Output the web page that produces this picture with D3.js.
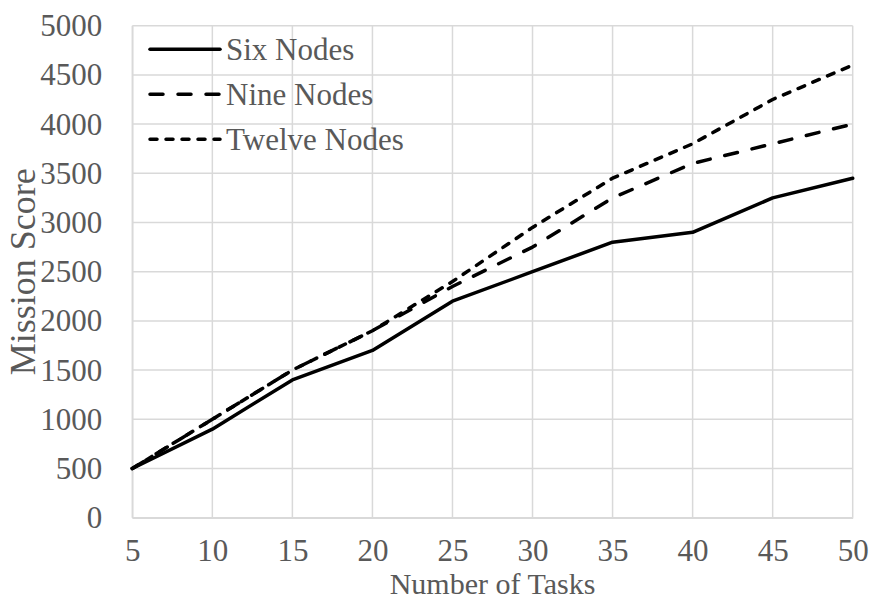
<html>
<head>
    <script src="https://d3js.org/d3.v7.min.js"></script>
</head>
<body style="margin:0;background:white">
    <svg></svg>
    <script>
        const tasks = [5, 10, 15, 20, 25, 30, 35, 40, 45, 50]
        const sixNodes = [500, 900, 1400, 1700, 2200, 2500, 2800, 2900, 3250, 3450]
        const nineNodes = [500, 1000, 1500, 1900, 2350, 2750, 3250, 3600, 3800, 4000]
        const twelveNodes = [500, 1000, 1500, 1900, 2400, 2950, 3450, 3800, 4250, 4600]
        const seriesNames = ["Six Nodes", "Nine Nodes", "Twelve Nodes"]
        const yTickValues = [0, 500, 1000, 1500, 2000, 2500, 3000, 3500, 4000, 4500, 5000]

        const width = 871
        const height = 601
        const textColor = "#595959"
        const gridColor = "#d9d9d9"
        const font = "Liberation Serif"

        const series = [
            { name: seriesNames[0], values: sixNodes, dash: null },
            { name: seriesNames[1], values: nineNodes, dash: "13,15" },
            { name: seriesNames[2], values: twelveNodes, dash: "7,9" },
        ]

        const xScale = d3.scaleLinear().domain([5, 50]).range([132.3, 852.7])
        const yScale = d3.scaleLinear().domain([0, 5000]).range([517.7, 25.7])

        const svg = d3.select("svg")
            .attr("width", width)
            .attr("height", height)
            .attr("viewBox", [0, 0, width, height])
            .attr("font-family", font)

        // grid
        svg.append("g")
            .selectAll("line")
            .data(yTickValues)
            .join("line")
            .attr("x1", xScale(5)).attr("x2", xScale(50))
            .attr("y1", d => yScale(d)).attr("y2", d => yScale(d))
            .attr("stroke", gridColor).attr("stroke-width", 1.5)
        svg.append("g")
            .selectAll("line")
            .data(tasks)
            .join("line")
            .attr("x1", d => xScale(d)).attr("x2", d => xScale(d))
            .attr("y1", yScale(0)).attr("y2", yScale(5000))
            .attr("stroke", gridColor).attr("stroke-width", 1.5)

        // axes, labels only
        const xAxis = d3.axisBottom(xScale).tickValues(tasks).tickFormat(d3.format("d")).tickSize(0).tickPadding(21)
        const yAxis = d3.axisLeft(yScale).tickValues(yTickValues).tickFormat(d3.format("d")).tickSize(0).tickPadding(30)

        svg.append("g")
            .attr("transform", `translate(0,${yScale(0)})`)
            .call(xAxis)
            .attr("font-family", font)
            .attr("font-size", 31)
            .call(g => g.select(".domain").attr("stroke", gridColor).attr("stroke-width", 1.5))
            .call(g => g.selectAll("text").attr("fill", textColor))

        svg.append("g")
            .attr("transform", `translate(${xScale(5)},0)`)
            .call(yAxis)
            .attr("font-family", font)
            .attr("font-size", 31)
            .call(g => g.select(".domain").attr("stroke", gridColor).attr("stroke-width", 1.5))
            .call(g => g.selectAll("text").attr("fill", textColor))

        // axis titles
        svg.append("text")
            .attr("x", (xScale(5) + xScale(50)) / 2)
            .attr("y", 594)
            .attr("text-anchor", "middle")
            .attr("fill", textColor)
            .attr("font-size", 30)
            .text("Number of Tasks")

        svg.append("text")
            .attr("transform", `translate(35,${(yScale(0) + yScale(5000)) / 2}) rotate(-90)`)
            .attr("text-anchor", "middle")
            .attr("fill", textColor)
            .attr("font-size", 36)
            .text("Mission Score")

        // lines
        const line = d3.line()
            .x((d, i) => xScale(tasks[i]))
            .y(d => yScale(d))

        svg.append("g")
            .selectAll("path")
            .data(series)
            .join("path")
            .attr("fill", "none")
            .attr("stroke", "black")
            .attr("stroke-width", 3.5)
            .attr("stroke-linecap", "round")
            .attr("stroke-linejoin", "round")
            .attr("stroke-dasharray", d => d.dash)
            .attr("d", d => line(d.values))

        // legend
        const legend = svg.append("g")
            .selectAll("g")
            .data(series)
            .join("g")
            .attr("transform", (d, i) => `translate(150,${49.3 + i * 45})`)
        legend.append("line")
            .attr("x1", 0).attr("x2", 70)
            .attr("stroke", "black")
            .attr("stroke-width", 3.5)
            .attr("stroke-linecap", "round")
            .attr("stroke-dasharray", d => d.dash)
        legend.append("text")
            .attr("x", 76)
            .attr("dy", "0.34em")
            .attr("fill", textColor)
            .attr("font-size", 31)
            .text(d => d.name)
    </script>
</body>
</html>
